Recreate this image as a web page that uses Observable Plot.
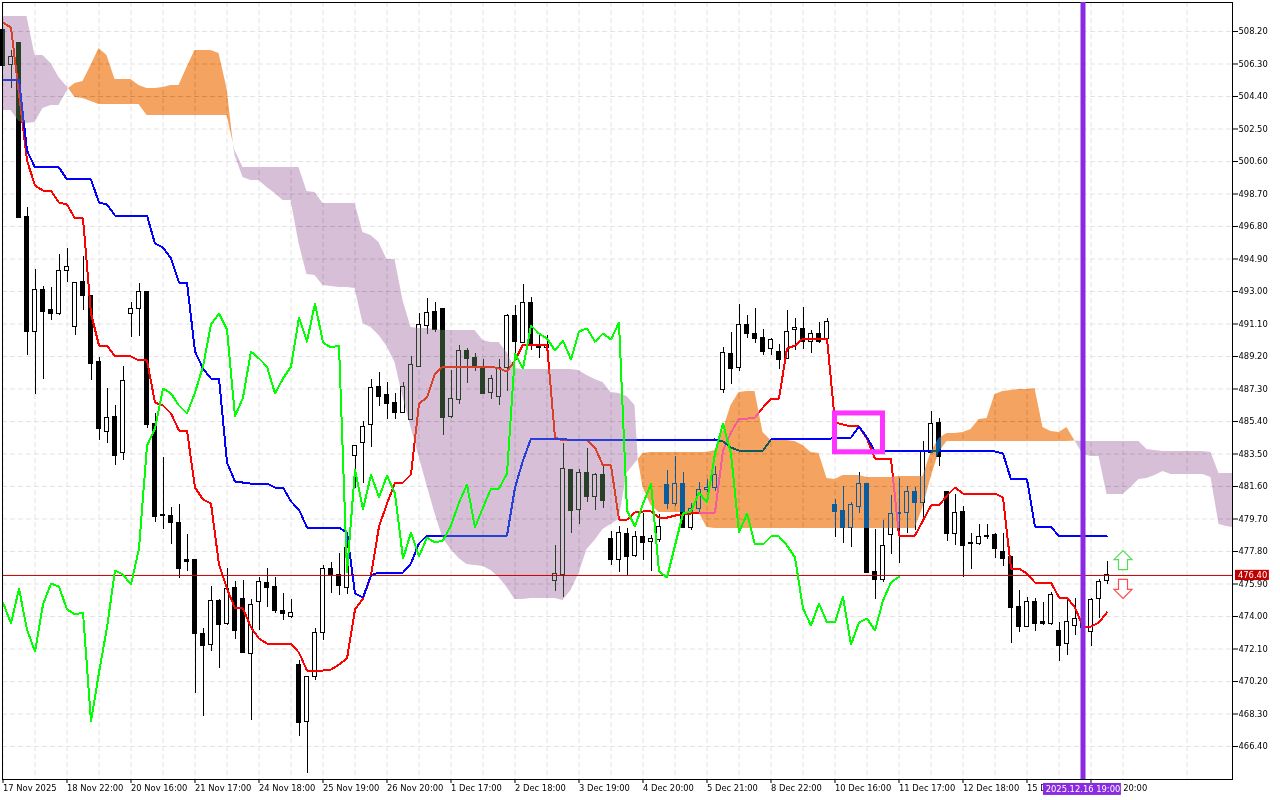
<!DOCTYPE html>
<html><head><meta charset="utf-8">
<style>html,body{margin:0;padding:0;background:#fff}</style>
<script src="https://cdn.jsdelivr.net/npm/d3@7"></script>
<script src="https://cdn.jsdelivr.net/npm/@observablehq/plot@0.6"></script>
</head><body><div id="chart"></div>
<script>
const priceTicks=[508.2,506.3,504.4,502.5,500.6,498.7,496.8,494.9,493.0,491.1,489.2,487.3,485.4,483.5,481.6,479.7,477.8,475.9,474.0,472.1,470.2,468.3,466.4];
const timeTicks=[0,8,16,24,32,40,48,56,64,72,80,88,96,104,112,120,128,136];
const timeLabels=["17 Nov 2025","18 Nov 22:00","20 Nov 16:00","21 Nov 17:00","24 Nov 18:00","25 Nov 19:00","26 Nov 20:00","1 Dec 17:00","2 Dec 18:00","3 Dec 19:00","4 Dec 20:00","5 Dec 21:00","8 Dec 22:00","10 Dec 16:00","11 Dec 17:00","12 Dec 18:00","15 Dec 19:00","16 Dec 20:00"];
const gridTicks=[4,12,20,28,36,44,52,60,68,76,84,92,100,108,116,124,132,140,148].concat(timeTicks);

const opens=[508.26,506.27,507.55,497.33,490.66,493.11,491.89,491.71,494.17,490.95,
493.58,492.76,488.85,484.81,485.69,483.53,491.71,492.0,492.99,485.28,
479.95,479.85,479.49,477.33,477.33,472.95,472.36,474.88,473.59,475.69,
475.05,471.83,474.82,475.93,475.75,474.35,474.0,471.19,467.86,470.49,
473.06,476.75,476.45,475.69,483.41,484.17,485.22,487.39,486.92,486.51,
485.87,485.46,488.61,491.01,491.83,492.0,485.69,486.68,489.55,489.14,
488.55,487.09,486.86,488.55,491.54,489.96,492.35,489.90,489.72,476.05,
476.40,482.59,480.25,482.36,480.96,482.30,478.56,477.33,478.85,477.56,
478.62,478.33,478.5,481.66,480.55,481.72,479.2,480.31,481.42,481.54,
487.27,489.37,488.55,491.07,490.54,490.31,489.61,489.49,489.08,490.72,
490.78,490.02,490.54,490.25,480.49,480.19,479.2,480.43,481.72,476.63,
476.16,478.79,480.02,480.08,481.25,480.66,483.53,485.34,481.25,478.85,
480.13,478.27,478.21,478.70,478.79,477.80,477.45,474.53,473.41,474.82,
473.65,473.59,473.18,472.42,473.47,473.88,473.12,475.05,476.05];
const highs=[508.26,507.09,507.55,497.91,494.28,493.29,493.23,495.16,495.51,493.52,
495.04,492.76,489.14,487.33,486.33,488.61,492.35,493.47,492.99,485.87,
483.29,480.37,480.55,478.79,477.33,473.30,475.75,475.0,476.80,476.04,
476.10,475.0,476.28,476.80,476.28,475.34,475.0,471.43,470.49,473.30,
476.98,477.16,477.68,478.27,484.0,485.40,487.85,488.26,487.68,487.04,
487.68,489.20,491.71,492.59,492.35,492.0,488.38,489.84,489.67,489.37,
489.02,488.09,489.02,491.65,492.18,493.41,492.65,490.43,490.43,478.15,
484.11,482.59,482.59,483.82,482.36,482.83,478.97,479.26,479.14,478.97,
480.02,478.73,479.96,482.53,483.35,482.42,480.6,481.83,482.01,482.77,
489.72,490.6,492.24,491.6,492.0,490.78,490.25,489.9,491.89,491.42,
492.06,490.72,491.19,491.42,480.84,481.6,480.66,482.42,481.72,479.08,
479.61,481.07,482.07,481.6,481.54,484.23,485.98,485.57,481.25,481.13,
480.43,478.85,479.38,479.38,478.85,478.85,477.45,475.52,475.11,475.05,
474.82,475.40,473.65,475.05,475.05,474.6,475.05,476.16,477.21];
const lows=[506.21,504.87,497.27,489.26,486.98,487.85,491.30,491.60,493.52,490.43,
491.89,487.79,484.29,484.11,482.83,483.12,490.31,490.37,484.99,479.49,
479.08,478.21,476.22,476.63,469.50,468.15,471.95,470.96,473.47,472.65,
471.83,467.92,473.18,474.53,474.17,473.76,473.88,466.98,464.82,470.26,
472.59,475.34,475.22,475.28,481.48,481.77,483.88,486.27,485.52,485.52,
485.87,485.46,488.55,490.49,490.6,484.58,485.57,486.39,487.62,488.32,
486.98,486.68,486.33,487.15,489.14,489.96,489.55,489.08,489.55,475.46,
475.11,478.85,479.38,480.66,480.19,480.31,476.98,476.57,476.40,477.45,
477.27,476.63,478.33,480.25,480.43,479.2,479.02,480.08,481.25,481.31,
487.04,487.56,488.32,490.25,489.96,489.26,489.26,488.44,489.08,489.55,
489.61,489.37,489.96,490.13,478.62,478.27,478.03,480.02,476.57,475.0,
475.99,477.63,477.10,478.85,479.02,479.73,483.53,482.77,478.38,478.15,
476.28,476.75,478.15,478.5,477.39,476.92,472.42,473.06,473.41,473.12,
473.47,473.47,471.37,471.72,472.89,472.6,472.24,473.88,475.87];
const closes=[506.21,506.68,497.27,490.66,493.11,491.83,491.71,494.17,494.46,493.47,
492.76,488.79,484.99,485.63,483.41,487.79,492.0,492.99,485.22,479.79,
479.85,479.49,476.75,477.21,472.95,472.30,474.93,473.53,475.63,473.18,
471.89,474.70,475.99,475.69,474.35,474.12,474.23,467.8,470.49,473.06,
476.75,476.40,475.81,478.03,483.94,485.05,487.33,486.86,486.45,485.87,
487.39,488.73,491.07,491.77,490.72,485.63,486.74,489.55,489.08,488.61,
486.98,487.91,488.55,491.54,490.02,492.35,489.90,489.67,489.90,476.51,
482.65,480.19,482.36,480.96,482.30,480.78,477.33,478.91,477.45,478.62,
478.27,478.56,479.26,480.55,481.77,479.2,480.31,481.42,481.54,482.30,
489.43,488.44,491.07,490.54,490.25,489.49,490.19,489.02,490.66,490.84,
490.02,490.54,490.02,491.19,480.13,479.2,480.49,481.77,476.57,476.16,
478.15,480.02,480.08,481.25,480.66,483.59,485.28,483.35,478.85,480.08,
478.15,478.21,478.62,478.64,477.97,477.39,474.47,473.41,474.82,473.59,
473.59,475.23,472.30,473.65,473.88,473.3,474.99,475.99,476.40];

const tenkan=[508.72,508.43,504.57,500.66,499.19,498.90,498.90,498.20,498.08,497.27,
497.27,491.71,489.84,489.84,489.20,489.20,489.20,488.97,488.97,486.51,
486.33,485.87,484.87,484.87,481.54,480.84,480.60,477.04,475.63,474.47,
474.47,473.36,472.71,472.42,472.42,472.42,472.42,471.89,470.84,470.84,
470.84,470.90,471.19,471.54,474.41,475.05,476.40,479.26,480.60,481.83,
481.83,482.30,486.45,486.80,488.20,488.61,488.61,488.61,488.61,488.61,
488.61,488.61,488.50,488.32,488.97,489.90,489.90,489.90,489.90,484.46,
484.29,484.29,484.29,484.29,483.88,482.83,482.83,479.67,479.67,480.08,
480.14,480.14,479.78,479.78,479.90,479.96,480.02,480.08,480.08,480.08,
483.70,484.76,485.57,485.57,485.63,486.22,486.74,486.74,489.67,489.84,
490.25,490.25,490.25,490.25,485.34,485.22,485.11,485.11,484.40,483.23,
483.23,483.23,478.73,478.73,478.73,479.61,480.49,480.49,481.07,481.54,
481.19,481.19,481.19,481.19,481.19,480.96,476.80,476.80,476.51,475.98,
475.98,475.98,475.11,475.11,474.52,473.41,473.41,473.65,474.24];
const kijun=[505.39,505.39,505.39,501.24,500.25,500.25,500.25,500.25,499.55,499.55,
499.55,499.55,498.20,498.08,497.44,497.44,497.44,497.44,497.44,495.80,
495.57,494.93,493.52,493.52,489.49,488.50,487.91,487.91,483.00,481.89,
481.83,481.77,481.77,481.77,481.54,481.54,480.72,480.25,479.20,479.20,
479.20,479.20,479.20,478.91,475.34,475.11,476.40,476.57,476.57,476.57,
476.57,477.10,478.27,478.73,478.73,478.73,478.73,478.73,478.73,478.73,
478.73,478.73,478.73,478.73,481.54,483.12,484.40,484.40,484.40,484.40,
484.40,484.29,484.29,484.29,484.29,484.29,484.29,484.29,484.29,484.29,
484.29,484.29,484.29,484.29,484.29,484.29,484.29,484.29,484.29,484.35,
484.23,483.88,483.70,483.70,483.70,483.70,484.35,484.35,484.35,484.35,
484.35,484.35,484.35,484.35,484.46,484.46,484.46,485.11,484.46,483.65,
483.65,483.65,483.65,483.65,483.65,483.65,483.65,483.65,483.65,483.65,
483.65,483.65,483.65,483.65,483.65,483.53,482.01,482.01,482.01,479.26,
479.26,479.26,478.68,478.68,478.68,478.68,478.68,478.68,478.68];
const chikou=[474.82,473.59,475.63,473.24,471.95,474.70,475.93,475.75,474.41,474.12,
474.23,467.86,470.73,473.36,476.69,476.45,475.87,477.97,483.99,484.99,
487.33,487.04,486.33,485.87,487.09,488.61,491.07,491.71,490.78,485.69,
486.80,489.49,489.08,488.61,487.04,487.91,488.61,491.48,490.07,492.30,
490.02,489.72,489.84,476.57,482.59,480.25,482.30,480.96,482.24,481.19,
477.39,478.91,477.51,478.62,478.32,478.44,479.32,480.66,481.72,479.20,
480.37,481.48,481.48,482.36,489.37,488.50,491.01,490.54,490.25,489.55,
490.13,489.02,490.66,490.84,490.07,490.54,490.19,491.19,480.19,479.26,
480.60,481.77,476.63,476.28,478.15,480.02,480.14,481.25,480.66,483.53,
485.28,483.53,478.91,480.02,478.21,478.21,478.68,478.68,478.15,477.45,
474.47,473.47,474.76,473.65,473.65,475.17,472.36,473.65,473.88,473.18,
474.93,475.98,476.33];

const cloudX=[0,1,2,3,4,5,6,7,8.2,
9,10,11,12,13,14,15,16,17,18,19,20,21,22,23,24,25,26,27,28,28.8,
29,30,31,32,33,34,35,36,37,38,39,
40,41,42,43,44,45,46,47,48,49,
50,51,52,53,54,55,56,57,58,59,
60,61,62,63,64,65,66,67,68,69,
70,71,72,73,74,75,76,77,78,79,79.4,
80,81,82,83,84,85,86,87,88,89,
90,91,92,93,94,95,96,97,98,99,
100,101,102,103,104,105,106,107,108,109,
110,111,112,113,114,115,116,117,118,119,
120,121,122,123,124,125,126,127,128,129,
130,131,132,133,134,135,136,137,138,139,
140,141,142,143,144,145,146,147,148,149,
150,151,152,153,153.69];
const cloudUpper=[509.07,509.07,509.07,509.07,506.79,506.79,506.33,505.51,504.87,
505.16,505.27,506.21,507.20,506.79,505.39,505.39,505.39,505.04,504.87,504.87,504.92,505.04,505.04,506.09,507.09,507.09,507.09,506.91,504.87,501.65,
501.24,500.25,500.25,500.25,500.25,500.25,500.25,500.25,500.25,498.84,498.79,
498.14,498.14,498.14,498.14,498.14,496.45,496.27,495.86,494.87,494.87,
492.47,490.89,490.83,490.83,490.78,490.72,490.72,490.72,490.72,490.72,
490.13,490.02,490.02,489.43,488.50,488.44,488.44,488.44,488.44,488.44,
488.44,488.44,488.38,488.09,487.85,487.68,487.09,487.04,486.86,486.33,483.18,
483.53,483.59,483.59,483.59,483.59,483.59,483.59,483.59,483.59,483.70,
484.87,486.33,487.09,487.15,487.15,484.76,484.29,484.29,484.29,484.23,
483.99,483.59,483.53,482.07,482.01,482.24,482.24,482.24,482.12,482.12,
482.12,482.12,482.18,482.18,482.18,482.18,483.59,484.40,484.70,484.70,
484.76,484.93,485.52,485.57,486.98,487.15,487.21,487.27,487.27,487.33,
485.05,484.81,484.76,485.05,484.26,484.23,484.23,484.23,484.23,484.23,
484.23,484.23,484.23,483.76,483.70,483.65,483.65,483.65,483.65,483.65,
483.65,483.59,482.36,482.36,482.36];
const cloudLower=[503.58,503.58,502.94,502.82,502.88,503.70,503.87,503.87,504.87,
504.34,504.28,504.11,503.93,503.93,503.93,503.93,503.93,503.93,503.29,503.29,503.29,503.29,503.29,503.29,503.29,503.29,503.29,503.29,503.29,501.65,
500.95,499.66,499.49,499.49,499.08,498.73,498.32,498.32,495.80,493.99,493.93,
493.35,493.29,493.23,493.23,493.17,491.13,490.89,490.43,489.78,488.85,
486.80,485.05,483.35,481.66,480.02,478.56,477.92,477.39,477.04,476.98,
476.92,476.69,476.28,475.69,474.99,474.99,475.05,475.05,475.05,475.05,
474.93,475.52,476.51,477.92,478.44,479.08,479.38,479.67,482.36,482.94,483.18,
481.54,480.49,480.08,480.08,480.08,480.08,480.08,480.08,479.20,479.14,
479.14,479.14,479.14,479.14,479.14,479.14,479.14,479.14,479.14,479.14,
479.14,479.14,479.14,479.14,479.14,479.14,479.14,479.14,479.14,479.14,
479.14,479.14,479.14,479.14,479.14,480.37,482.12,483.59,484.23,484.23,
484.23,484.23,484.23,484.23,484.23,484.23,484.23,484.23,484.23,484.23,
484.23,484.23,484.23,484.23,484.26,483.47,483.35,483.35,481.13,481.13,
481.13,481.54,482.01,482.07,482.24,482.48,482.30,482.30,482.30,482.30,
482.30,482.12,479.38,479.26,479.20];
const cloudRuns=[[0,8.2,"purple"],[8.2,28.8,"orange"],[28.8,79.4,"purple"],[79.4,134,"orange"],[134,154,"purple"]];
// complement of the visible cloud colour: painted in "difference" mode, as the terminal XORs its clouds
const cloudInk={purple:"#274027",orange:"#0b5b9f"};

const lastPrice=476.40;
const cursorBar=135;
const cursorLabel="2025.12.16 19:00";
const boxBars=[104,110], boxPrices=[483.6,485.87];
const arrows=[{i:140,p:477.30,dir:"up"},{i:140,p:475.61,dir:"down"}];

const bars=opens.map((o,i)=>({i,o,h:highs[i],l:lows[i],c:closes[i]}));
const line=a=>a.map((v,i)=>({i,v}));
const cloud=cloudX.map((x,k)=>({x,u:cloudUpper[k],l:cloudLower[k]}));
const arrowSymbol=s=>({draw(c){const pts=[[0,-9.5],[9,-.5],[4.5,-.5],[4.5,9.5],[-4.5,9.5],[-4.5,-.5],[-9,-.5]];
  pts.forEach(([a,b],n)=>{n?c.lineTo(a,s*b):c.moveTo(a,s*b)});c.closePath();}});
const font="'DejaVu Sans Condensed','DejaVu Sans'";
const fs=9.3;
const grid={stroke:"#e3e3e3",strokeOpacity:1,strokeDasharray:"5,3",strokeWidth:1};
const indicator={x:"i",y:"v",strokeWidth:2,shapeRendering:"crispEdges"};

const chart=Plot.plot({
  width:1280,height:800,marginLeft:2,marginRight:48,marginTop:2,marginBottom:21,
  style:{fontFamily:font,fontSize:fs+"px",background:"#fff",color:"#000"},
  x:{type:"linear",domain:[-0.0625,153.6875]},
  y:{type:"linear",domain:[464.471,509.895]},
  marks:[
    Plot.frame({fill:"#fff",stroke:"none"}),
    Plot.gridX(gridTicks,grid),
    Plot.gridY(priceTicks,grid),
    Plot.ruleX(bars,{x:"i",y1:"l",y2:"h",stroke:"#000",strokeWidth:1,shapeRendering:"crispEdges"}),
    Plot.rect(bars,{x1:d=>d.i-.25,x2:d=>d.i+.25,y1:"o",y2:"c",fill:d=>d.c>d.o?"#fff":"#000",stroke:"#000",strokeWidth:1,shapeRendering:"crispEdges"}),
    Plot.line(line(tenkan),{...indicator,stroke:"#ff0000"}),
    Plot.line(line(kijun),{...indicator,stroke:"#0000ff"}),
    ...cloudRuns.map(([a,b,kind])=>Plot.areaY(cloud.filter(d=>d.x>=a&&d.x<=b),{x:"x",y1:"l",y2:"u",fill:cloudInk[kind],mixBlendMode:"difference"})),
    Plot.ruleY([lastPrice],{stroke:"#c00000",strokeWidth:1}),
    Plot.line(line(chikou),{...indicator,stroke:"#00ff00"}),
    Plot.rect([0],{x1:()=>boxBars[0],x2:()=>boxBars[1],y1:()=>boxPrices[0],y2:()=>boxPrices[1],fill:"none",stroke:"#ff33ff",strokeWidth:5}),
    Plot.dot(arrows.filter(d=>d.dir==="up"),{x:"i",y:"p",r:9,symbol:arrowSymbol(1),fill:"#fff",stroke:"#55dd55",strokeWidth:1.2}),
    Plot.dot(arrows.filter(d=>d.dir==="down"),{x:"i",y:"p",r:9,symbol:arrowSymbol(-1),fill:"#fff",stroke:"#ff4d4d",strokeWidth:1.2}),
    Plot.axisX({ticks:timeTicks,tickFormat:i=>timeLabels[timeTicks.indexOf(i)],textAnchor:"start",tickSize:4,tickPadding:1,label:null,fontSize:fs,fill:"#000",stroke:"#000",strokeOpacity:1}),
    Plot.axisY({anchor:"right",ticks:priceTicks,tickFormat:d3.format(".2f"),tickSize:5,tickPadding:1,label:null,fontSize:fs,fill:"#000",stroke:"#000",strokeOpacity:1}),
    Plot.frame({stroke:"#000",strokeWidth:1}),
    Plot.ruleX([cursorBar],{stroke:"#8a2be2",strokeWidth:5}),
    Plot.rect([0],{x1:()=>154.06,x2:()=>158.3,y1:()=>476.1,y2:()=>476.7,fill:"#c00000"}),
    Plot.text([0],{x:()=>156.2,y:()=>lastPrice,text:()=>lastPrice.toFixed(2),fill:"#fff",fontSize:fs}),
    Plot.rect([0],{x1:()=>130.06,x2:()=>139.8,y1:()=>463.54,y2:()=>464.24,fill:"#8a2be2"}),
    Plot.text([0],{x:()=>cursorBar,y:()=>463.89,text:()=>cursorLabel,fill:"#fff",fontSize:fs})
  ]
});
document.getElementById("chart").appendChild(chart);
</script></body></html>
